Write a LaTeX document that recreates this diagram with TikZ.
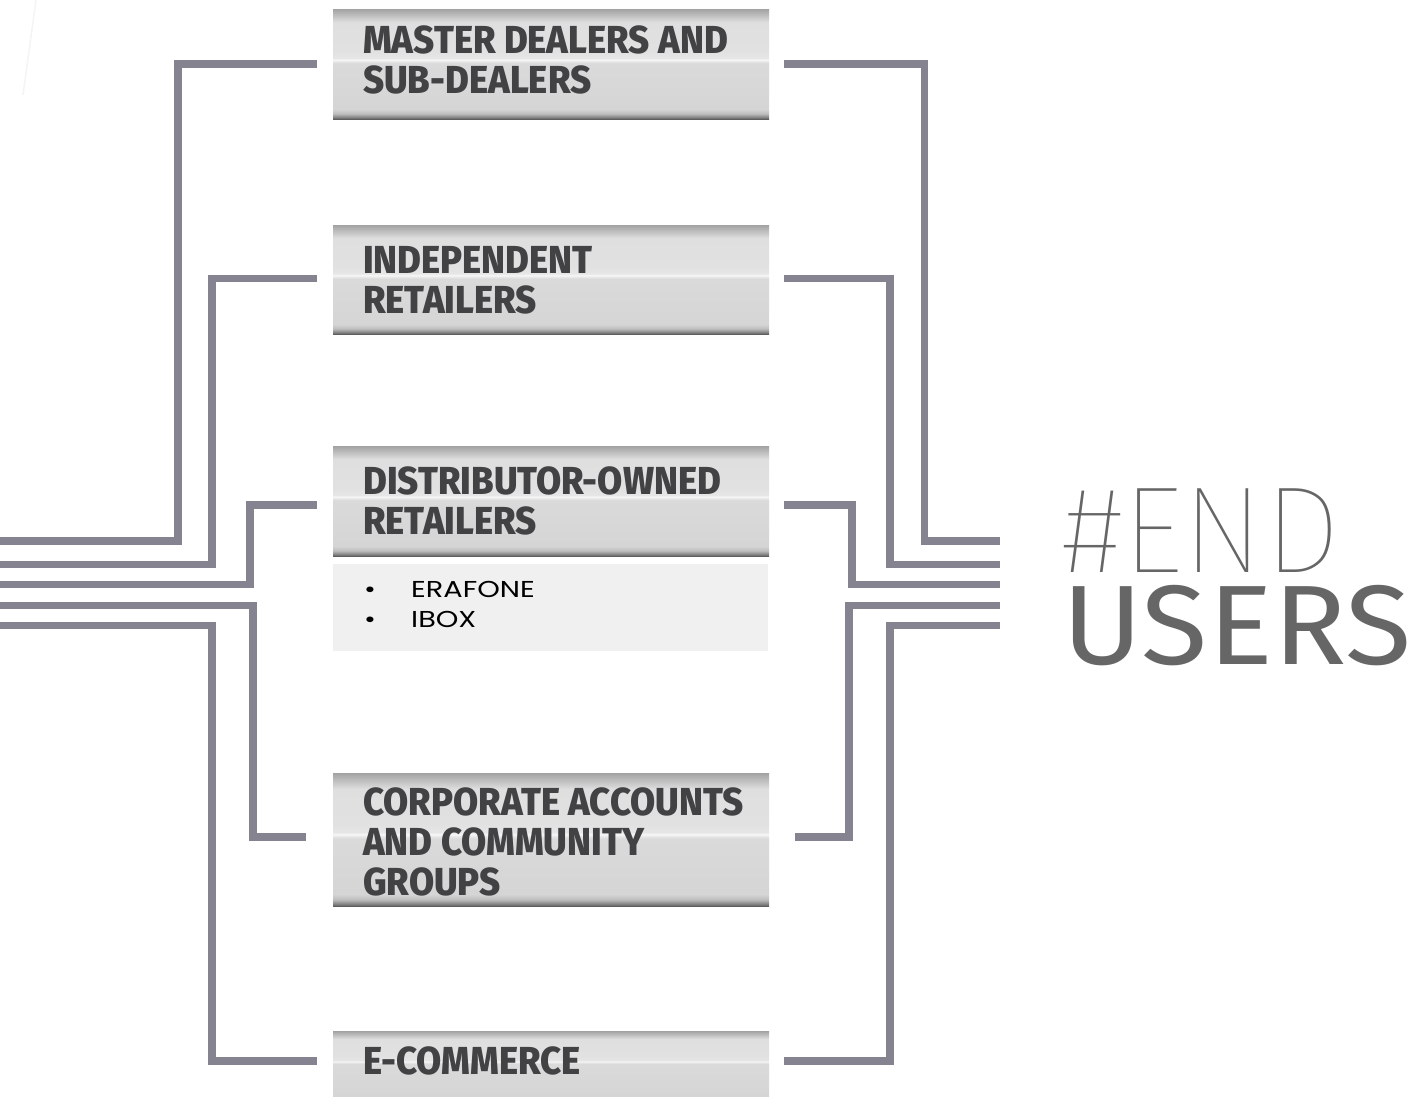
\documentclass[tikz,border=0pt]{standalone}
\usepackage{fontspec}
\setmainfont{Fira Sans}
\newfontfamily\labelfont{Fira Sans ExtraBold}[FakeStretch=0.935]
\newfontfamily\thinfont{Fira Sans Thin}
\newfontfamily\usersfont{Fira Sans}[FakeStretch=1.075]
\newfontfamily\listfont{Poppins}[FakeStretch=1.25]
\definecolor{conncol}{RGB}{133,131,143}
\definecolor{labelgray}{RGB}{66,66,68}
\definecolor{endgray}{RGB}{102,102,102}
\definecolor{listbg}{RGB}{240,240,240}
\definecolor{mka}{RGB}{90,90,90}
\definecolor{mkb}{RGB}{128,128,128}
\definecolor{mkc}{RGB}{189,189,189}
\definecolor{mkd}{RGB}{213,213,214}
\definecolor{mke}{RGB}{218,218,219}
\definecolor{mkf}{RGB}{230,230,231}
\definecolor{mkg}{RGB}{247,247,247}
\definecolor{mkh}{RGB}{225,225,226}
\definecolor{mki}{RGB}{223,223,224}
\definecolor{mkj}{RGB}{163,163,163}
\pgfdeclareverticalshading{metal}{100bp}{color(0bp)=(mka); color(25bp)=(mka); color(25.8bp)=(mkb); color(27.5bp)=(mkc); color(29.5bp)=(mkd); color(50.4bp)=(mke); color(51.2bp)=(mkf); color(52bp)=(mkg); color(52.8bp)=(mkf); color(56bp)=(mkh); color(69bp)=(mki); color(75bp)=(mkj); color(100bp)=(mkj)}
\pgfdeclareverticalshading{metalcut}{100bp}{color(0bp)=(mkd); color(25bp)=(mkd); color(50.4bp)=(mke); color(51.2bp)=(mkf); color(52bp)=(mkg); color(52.8bp)=(mkf); color(56bp)=(mkh); color(69bp)=(mki); color(75bp)=(mkj); color(100bp)=(mkj)}
\tikzset{
  panel/.style={rectangle, draw=none, shading=metal, minimum width=436pt, inner sep=0pt, anchor=north west},
  lbl/.style={anchor=base west, align=left, inner sep=0pt, text=labelgray, font=\labelfont\fontsize{39}{40}\selectfont},
  conn/.style={draw=conncol, line width=7.5pt, line join=miter, line cap=butt},
}
\begin{document}
\begin{tikzpicture}[x=1pt,y=-1pt]
\useasboundingbox (0,0) rectangle (1419,1097);
% faint decorative stroke
\draw[color={rgb,255:red,244;green,244;blue,244}, line width=1.5pt] (36,0) -- (23,95);
% panels
\node[panel, minimum height=110pt] (b1) at (333,9) {};
\node[panel, minimum height=109pt] (b2) at (333,225) {};
\node[panel, minimum height=110pt] (b3) at (333,446) {};
\node[panel, minimum height=133pt] (b4) at (333,773) {};
\node[panel, shading=metalcut, minimum height=66pt] (b5) at (333,1031) {};
\node[rectangle, fill=listbg, minimum width=435pt, minimum height=87pt, inner sep=0pt, anchor=north west] (list) at (333,564) {};
% labels (anchored at the baseline of the last line)
\node[lbl] (t1) at (363,94) {MASTER DEALERS AND\\SUB-DEALERS};
\node[lbl] (t2) at (363,313) {INDEPENDENT\\RETAILERS};
\node[lbl] (t3) at (363,534) {DISTRIBUTOR-OWNED\\RETAILERS};
\node[lbl] (t4) at (363,895) {CORPORATE ACCOUNTS\\AND COMMUNITY\\GROUPS};
\node[lbl] (t5) at (363,1074) {E-COMMERCE};
\node[anchor=base west, align=left, inner sep=0pt, font=\listfont\fontsize{23}{30}\selectfont, text=black] (items) at (364,627) {\makebox[47pt][l]{•}ERAFONE\\\makebox[47pt][l]{•}IBOX};
% end users
\node[anchor=base west, inner sep=0pt, text depth=0pt, text=endgray, font=\thinfont\fontsize{123}{123}\selectfont] (endw) at (1062,572) {\#END};
\node[anchor=base west, inner sep=0pt, text height=78pt, text=endgray, font=\usersfont\fontsize{113}{113}\selectfont] (users) at (1062,664) {USERS};
% bus ends
\coordinate (inA) at (0,541);
\coordinate (inB) at (0,564.5);
\coordinate (inC) at (0,584.5);
\coordinate (inD) at (0,605.5);
\coordinate (inE) at (0,625.5);
\coordinate (outA) at (1000,541);
\coordinate (outB) at (1000,564.5);
\coordinate (outC) at (1000,584.5);
\coordinate (outD) at (1000,605.5);
\coordinate (outE) at (1000,625.5);
% left connectors
\draw[conn] (inA) -- (178,541) |- ([xshift=-16pt]b1.west);
\draw[conn] (inB) -- (212,564.5) |- ([xshift=-16pt,yshift=1pt]b2.west);
\draw[conn] (inC) -- (250,584.5) |- ([xshift=-16pt,yshift=-4pt]b3.west);
\draw[conn] (inD) -- (253,605.5) |- ([xshift=-27pt,yshift=2.5pt]b4.west);
\draw[conn] (inE) -- (212,625.5) |- ([xshift=-16pt,yshift=3pt]b5.west);
% right connectors
\draw[conn] ([xshift=15pt]b1.east) -| (924.5,541) -- (outA);
\draw[conn] ([xshift=15pt,yshift=1pt]b2.east) -| (890,564.5) -- (outB);
\draw[conn] ([xshift=15pt,yshift=-4pt]b3.east) -| (852,584.5) -- (outC);
\draw[conn] ([xshift=26pt,yshift=2.5pt]b4.east) -| (849,605.5) -- (outD);
\draw[conn] ([xshift=15pt,yshift=3pt]b5.east) -| (890,625.5) -- (outE);
\end{tikzpicture}
\end{document}
